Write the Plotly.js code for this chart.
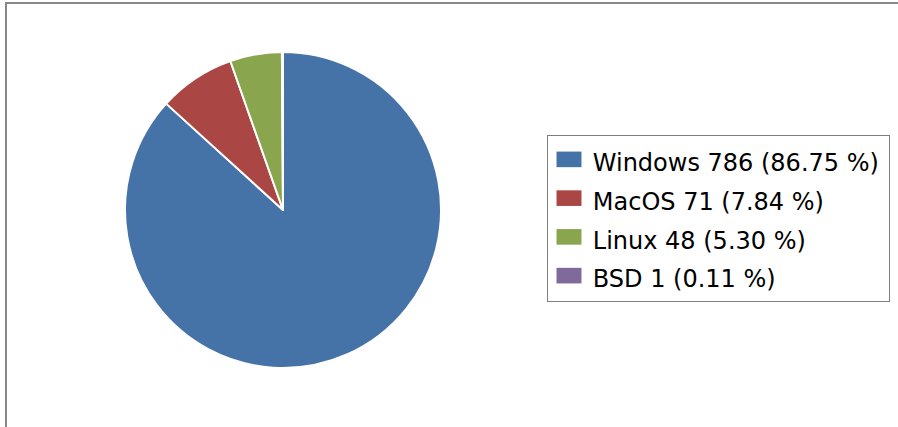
<!DOCTYPE html>
<html>
<head>
<meta charset="utf-8">
<script src="https://cdn.plot.ly/plotly-3.0.1.min.js"></script>
<style>
html, body { margin: 0; padding: 0; background: #fff; }
#chart { width: 898px; height: 427px; }
path.legendpie { transform: translate(21px, -1px) scale(2.08, 1.3); stroke-width: 0 !important; }
</style>
</head>
<body>
<div id="chart"></div>
<script>
const categories = ["Windows", "MacOS", "Linux", "BSD"];
const counts = [786, 71, 48, 1];
const percentLabels = ["86.75 %", "7.84 %", "5.30 %", "0.11 %"];
const colors = ["#4572A7", "#AA4643", "#89A54E", "#80699B"];

const W = 898, H = 427;
const pad = '<span style="font-size:15px">\u00a0</span>';
const legendLabels = categories.map((c, i) =>
  pad + '<span style="font-size:24px">' + c + ' ' + counts[i] + ' (' + percentLabels[i] + ')</span>' + pad);

const trace = {
  type: "pie",
  labels: legendLabels,
  values: counts,
  sort: false,
  direction: "clockwise",
  rotation: 0,
  textinfo: "none",
  hoverinfo: "label+value+percent",
  marker: { colors: colors, line: { color: "#ffffff", width: 2 } },
  domain: { x: [125 / W, 441 / W], y: [1 - 368 / H, 1 - 52 / H] }
};

const layout = {
  width: W, height: H,
  margin: { l: 0, r: 0, t: 0, b: 0 },
  paper_bgcolor: "#ffffff",
  font: { family: "DejaVu Sans, sans-serif", color: "#000000" },
  showlegend: true,
  legend: {
    x: 547 / W, xanchor: "left",
    y: 1 - 135 / H, yanchor: "top",
    bgcolor: "#ffffff",
    bordercolor: "#7f7f7f",
    borderwidth: 1,
    font: { family: "DejaVu Sans, sans-serif", size: 27.5, color: "#000000" }
  },
  shapes: [
    { type: "rect", xref: "paper", yref: "paper",
      x0: 6 / W, x1: 1.05, y0: -0.05, y1: 1 - 3 / H,
      line: { color: "#888888", width: 2 }, fillcolor: "rgba(0,0,0,0)" }
  ]
};

Plotly.newPlot("chart", [trace], layout, { displayModeBar: false, staticPlot: true });
</script>
</body>
</html>
